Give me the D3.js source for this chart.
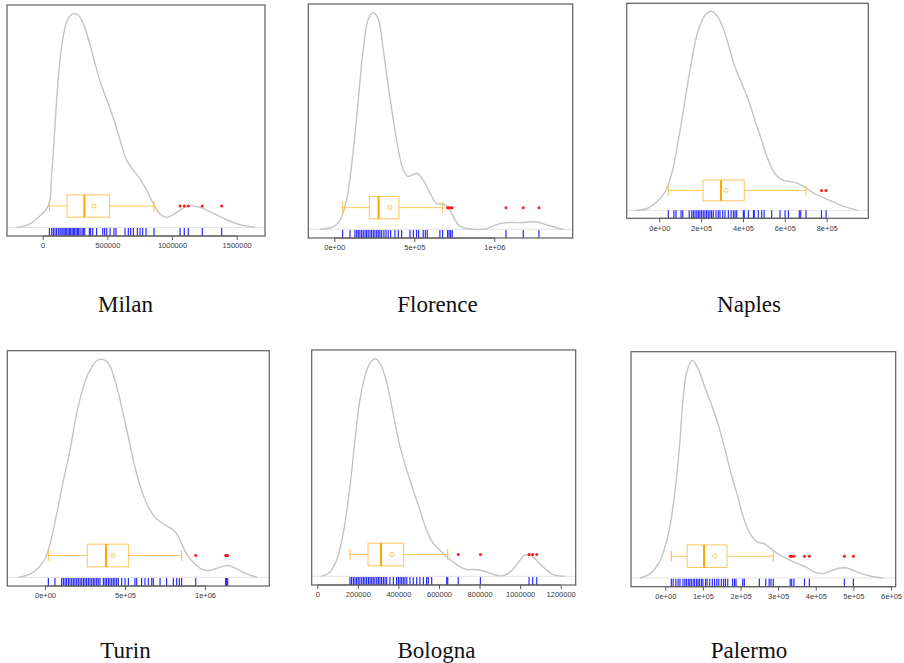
<!DOCTYPE html>
<html>
<head>
<meta charset="utf-8">
<script src="https://cdn.jsdelivr.net/npm/d3@7/dist/d3.min.js"></script>
<style>
  html, body { margin: 0; padding: 0; background: #fff; }
  svg { display: block; }
</style>
</head>
<body>
<svg id="chart" width="904" height="663"></svg>
<script>
// ---- Data (house prices per city) ----
const cities = ["Milan", "Florence", "Naples", "Turin", "Bologna", "Palermo"];

// observations in thousands, drawn as the rug
const milanValues = [52,70,82,95,108,121,134,142,155,165,175,186,196,206,216,227,237,247,258,268,278,289,304,314,325,361,371,387,417,464,479,495,521,551,567,637,662,680,701,732,753,773,799,861,1062,1095,1126,1234,1384];
const florenceValues = [52,98,129,140,150,160,171,181,192,202,212,223,233,244,254,265,275,285,296,310,323,337,352,379,400,421,473,494,514,527,556,569,581,660,677,708,717,727,737,1073,1181,1279];
const naplesValues = [43,70,80,104,112,143,155,163,171,179,187,194,202,210,218,226,234,242,250,258,271,282,290,303,314,330,343,354,362,370,402,406,426,450,454,473,489,501,537,577,601,617,669,676,701,775,797];
const turinValues = [21,62,104,115,125,135,146,156,167,177,187,198,208,219,229,240,250,260,271,281,292,302,312,323,333,344,365,375,385,396,406,417,427,437,448,458,479,500,521,562,573,604,625,646,667,677,719,760,802,823,840,854,942,1129,1135,1142];
const bolognaValues = [161,169,178,186,194,202,210,219,227,235,243,252,260,268,276,284,293,301,309,317,326,334,342,358,375,391,400,408,416,424,432,441,457,473,490,506,523,539,547,564,638,643,695,804,1044,1062,1082];
const palermoValues = [16,21,28,34,39,47,52,56,61,65,69,74,78,83,87,91,96,100,107,111,118,125,131,137,142,149,155,160,166,179,184,188,206,210,250,267,276,281,287,332,336,342,370,383,476,500];

// box statistics: [lower whisker, Q1, median, Q3, upper whisker] and mean (thousands)
const milanBox = [52, 188, 322, 518, 861];       const milanMean = 397;
const florenceBox = [52, 219, 277, 404, 677];    const florenceMean = 346;
const naplesBox = [43, 209, 295, 406, 701];      const naplesMean = 319;
const turinBox = [21, 264, 381, 521, 854];       const turinMean = 423;
const bolognaBox = [161, 250, 314, 426, 643];    const bolognaMean = 368;
const palermoBox = [16, 58, 103, 164, 287];      const palermoMean = 131;

// kernel density estimate: [value (thousands), density relative to peak]
const milanDensity = [[-201,0],[-111,0.013],[-34,0.047],[44,0.102],[70,0.252],[88,0.409],[108,0.598],[129,0.756],[155,0.882],[186,0.961],[216,0.992],[242,1],[276,0.992],[314,0.953],[353,0.882],[392,0.795],[443,0.685],[495,0.598],[546,0.512],[598,0.409],[649,0.315],[701,0.268],[752,0.228],[804,0.173],[856,0.11],[907,0.063],[959,0.047],[1010,0.06],[1075,0.087],[1139,0.102],[1216,0.094],[1319,0.066],[1423,0.036],[1526,0.013],[1642,0]];
const florenceDensity = [[-90,0],[-6,0.012],[35,0.043],[77,0.136],[119,0.367],[150,0.599],[181,0.83],[212,0.969],[244,1],[275,0.969],[306,0.83],[337,0.66],[369,0.506],[400,0.367],[431,0.275],[462,0.244],[515,0.259],[556,0.228],[598,0.167],[639,0.12],[681,0.117],[712,0.102],[744,0.059],[785,0.015],[869,0],[952,0.003],[1014,0.022],[1077,0.031],[1160,0.031],[1264,0.034],[1327,0.02],[1431,0]];
const naplesDensity = [[-116,0],[-61,0.008],[-13,0.042],[27,0.092],[59,0.184],[91,0.352],[123,0.553],[155,0.754],[186,0.905],[218,0.98],[247,1],[274,0.98],[306,0.913],[338,0.804],[362,0.72],[394,0.637],[426,0.553],[457,0.452],[489,0.352],[521,0.251],[553,0.184],[585,0.154],[617,0.146],[657,0.137],[697,0.117],[736,0.087],[784,0.064],[832,0.042],[880,0.02],[951,0]];
const turinDensity = [[-167,0],[-94,0.015],[-42,0.043],[0,0.084],[31,0.153],[73,0.291],[115,0.445],[156,0.583],[198,0.752],[240,0.874],[281,0.951],[323,0.994],[360,1],[396,0.982],[437,0.905],[479,0.782],[521,0.644],[562,0.506],[604,0.399],[646,0.322],[687,0.276],[739,0.245],[792,0.222],[823,0.199],[854,0.153],[885,0.107],[927,0.069],[979,0.038],[1021,0.031],[1062,0.038],[1104,0.049],[1146,0.054],[1187,0.043],[1239,0.023],[1323,0]];
const bolognaDensity = [[21,0],[62,0.02],[95,0.074],[128,0.197],[161,0.412],[186,0.627],[210,0.811],[235,0.919],[260,0.98],[286,1],[309,0.98],[334,0.919],[358,0.826],[383,0.704],[408,0.596],[441,0.488],[473,0.396],[506,0.304],[539,0.212],[572,0.151],[605,0.12],[638,0.089],[671,0.066],[704,0.043],[737,0.031],[769,0.031],[802,0.028],[835,0.02],[868,0.009],[901,0.002],[934,0.009],[967,0.035],[1000,0.074],[1024,0.097],[1049,0.097],[1074,0.081],[1098,0.058],[1131,0.028],[1164,0.008],[1221,0]];
const palermoDensity = [[-67,0],[-40,0.02],[-18,0.066],[-1,0.142],[12,0.234],[26,0.403],[39,0.632],[47,0.816],[58,0.954],[72,1],[87,0.962],[105,0.877],[122,0.801],[140,0.709],[157,0.602],[175,0.479],[193,0.372],[210,0.265],[228,0.196],[245,0.165],[263,0.158],[281,0.135],[298,0.112],[316,0.096],[333,0.081],[351,0.066],[373,0.051],[395,0.028],[417,0.02],[443,0.035],[465,0.046],[483,0.046],[500,0.035],[522,0.02],[544,0.009],[580,0]];

// axis ticks
const milanTicks = [0, 500000, 1000000, 1500000];
const milanTickLabels = ["0", "500000", "1000000", "1500000"];
const florenceTicks = [0, 500000, 1000000];
const florenceTickLabels = ["0e+00", "5e+05", "1e+06"];
const naplesTicks = [0, 200000, 400000, 600000, 800000];
const naplesTickLabels = ["0e+00", "2e+05", "4e+05", "6e+05", "8e+05"];
const turinTicks = [0, 500000, 1000000];
const turinTickLabels = ["0e+00", "5e+05", "1e+06"];
const bolognaTicks = [0, 200000, 400000, 600000, 800000, 1000000, 1200000];
const bolognaTickLabels = ["0", "200000", "400000", "600000", "800000", "1000000", "1200000"];
const palermoTicks = [0, 100000, 200000, 300000, 400000, 500000, 600000];
const palermoTickLabels = ["0e+00", "1e+05", "2e+05", "3e+05", "4e+05", "5e+05", "6e+05"];

// ---- Panel layout ----
const K = 1000;
const panels = [
  { name: cities[0], values: milanValues, box: milanBox, mean: milanMean, density: milanDensity,
    ticks: milanTicks, labels: milanTickLabels,
    frame: [7, 5, 265, 236], xDomain: [-276000, 1719000], caption: [125.5, 304] },
  { name: cities[1], values: florenceValues, box: florenceBox, mean: florenceMean, density: florenceDensity,
    ticks: florenceTicks, labels: florenceTickLabels,
    frame: [308.3, 4, 572.7, 238], xDomain: [-162500, 1490000], caption: [437.5, 304] },
  { name: cities[2], values: naplesValues, box: naplesBox, mean: naplesMean, density: naplesDensity,
    ticks: naplesTicks, labels: naplesTickLabels,
    frame: [626.7, 3.3, 868.3, 218.3], xDomain: [-155800, 998800], caption: [749, 304] },
  { name: cities[3], values: turinValues, box: turinBox, mean: turinMean, density: turinDensity,
    ticks: turinTicks, labels: turinTickLabels,
    frame: [7.3, 350.7, 269.3, 586], xDomain: [-235600, 1401900], caption: [125.5, 650] },
  { name: cities[4], values: bolognaValues, box: bolognaBox, mean: bolognaMean, density: bolognaDensity,
    ticks: bolognaTicks, labels: bolognaTickLabels,
    frame: [311.7, 350, 575.7, 585], xDomain: [-27600, 1274000], caption: [436.5, 650] },
  { name: cities[5], values: palermoValues, box: palermoBox, mean: palermoMean, density: palermoDensity,
    ticks: palermoTicks, labels: palermoTickLabels,
    frame: [631, 351.7, 895.7, 586.7], xDomain: [-91200, 612500], caption: [749, 650] }
];

const svg = d3.select("#chart");
const orangeLight = "#ffc45a";
const orange = "#ffa500";

panels.forEach(p => {
  const [x0, y0, x1, y1] = p.frame;
  const x = d3.scaleLinear().domain(p.xDomain).range([x0, x1]);
  const y = d3.scaleLinear().domain([-0.04, 1.04]).range([y1, y0]);
  const g = svg.append("g").attr("class", "panel");

  // baseline of the density
  g.append("line")
    .attr("x1", x0).attr("x2", x1)
    .attr("y1", y(0)).attr("y2", y(0))
    .attr("stroke", "#e2e2e2").attr("stroke-width", 1);

  // density curve
  const line = d3.line()
    .x(d => x(d[0] * K))
    .y(d => y(d[1]))
    .curve(d3.curveCatmullRom.alpha(0.5));
  g.append("path")
    .datum(p.density)
    .attr("d", line)
    .attr("fill", "none")
    .attr("stroke", "#c4c4c4")
    .attr("stroke-width", 1.4);

  // rug
  g.selectAll("line.rug")
    .data(p.values)
    .join("line")
    .attr("class", "rug")
    .attr("x1", d => x(d * K)).attr("x2", d => x(d * K))
    .attr("y1", y1).attr("y2", y1 - 8)
    .attr("stroke", "#2a2aff").attr("stroke-width", 1.2);

  // boxplot
  const [lo, q1, med, q3, hi] = p.box;
  const bTop = y(0.152), bBot = y(0.048), bMid = y(0.1);
  const capTop = y(0.125), capBot = y(0.075);
  const bx = g.append("g").attr("class", "box");
  bx.append("line").attr("x1", x(lo * K)).attr("x2", x(q1 * K))
    .attr("y1", bMid).attr("y2", bMid).attr("stroke", orangeLight).attr("stroke-width", 1);
  bx.append("line").attr("x1", x(q3 * K)).attr("x2", x(hi * K))
    .attr("y1", bMid).attr("y2", bMid).attr("stroke", orangeLight).attr("stroke-width", 1);
  bx.append("line").attr("x1", x(lo * K)).attr("x2", x(lo * K))
    .attr("y1", capTop).attr("y2", capBot).attr("stroke", orangeLight).attr("stroke-width", 1.2);
  bx.append("line").attr("x1", x(hi * K)).attr("x2", x(hi * K))
    .attr("y1", capTop).attr("y2", capBot).attr("stroke", orangeLight).attr("stroke-width", 1.2);
  bx.append("rect")
    .attr("x", x(q1 * K)).attr("y", bTop)
    .attr("width", x(q3 * K) - x(q1 * K)).attr("height", bBot - bTop)
    .attr("fill", "none").attr("stroke", orangeLight).attr("stroke-width", 1);
  bx.append("line").attr("x1", x(med * K)).attr("x2", x(med * K))
    .attr("y1", bTop).attr("y2", bBot).attr("stroke", orange).attr("stroke-width", 2);
  bx.append("circle").attr("cx", x(p.mean * K)).attr("cy", bMid).attr("r", 2)
    .attr("fill", "none").attr("stroke", orangeLight).attr("stroke-width", 1);

  // outliers: observations beyond the whiskers
  const outliers = p.values.filter(v => v > hi || v < lo);
  g.selectAll("circle.out")
    .data(outliers)
    .join("circle")
    .attr("class", "out")
    .attr("cx", d => x(d * K)).attr("cy", bMid).attr("r", 1.5)
    .attr("fill", "#ff1a1a");

  // frame
  g.append("rect")
    .attr("x", x0).attr("y", y0)
    .attr("width", x1 - x0).attr("height", y1 - y0)
    .attr("fill", "none").attr("stroke", "#5e5e5e").attr("stroke-width", 1.2);

  // x axis
  const axis = d3.axisBottom(x)
    .tickValues(p.ticks)
    .tickFormat((d, i) => p.labels[i])
    .tickSizeOuter(0)
    .tickSizeInner(4)
    .tickPadding(3);
  const ax = g.append("g").attr("transform", `translate(0,${y1})`).call(axis);
  ax.select(".domain").attr("stroke", "#5e5e5e").attr("d", `M${x(p.ticks[0])},0H${x(p.ticks[p.ticks.length - 1])}`);
  ax.selectAll(".tick line").attr("stroke", "#5e5e5e");
  ax.selectAll(".tick text")
    .attr("fill", "#3a3a3a")
    .style("font-family", "'Liberation Sans', Arial, sans-serif")
    .style("font-size", "7.5px");

  // caption
  svg.append("text")
    .attr("x", p.caption[0]).attr("y", p.caption[1])
    .attr("text-anchor", "middle")
    .attr("dominant-baseline", "central")
    .style("font-family", "'Liberation Serif', 'Times New Roman', serif")
    .style("font-size", "23px")
    .attr("fill", "#111")
    .text(p.name);
});
</script>
</body>
</html>
